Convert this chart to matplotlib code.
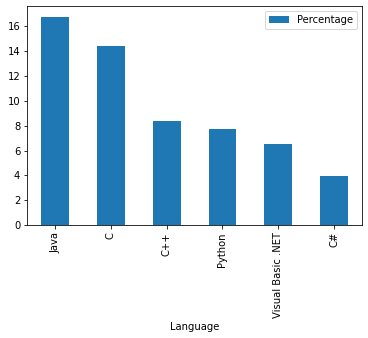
import matplotlib
matplotlib.use('Agg')
import matplotlib.pyplot as plt
import pandas as pd

# datos
languages = ['Java', 'C', 'C++', 'Python', 'Visual Basic .NET', 'C#']
percentage = [16.8, 14.4, 8.35, 7.72, 6.5, 3.92]

df = pd.DataFrame({'Language': languages, 'Percentage': percentage})

fig = plt.figure(figsize=(368 / 72, 338 / 72), dpi=72)
ax = fig.add_axes([0.074, 0.334, 0.9095, 0.648])
df.plot(kind='bar', x='Language', y='Percentage', ax=ax)
ax.set_yticks(range(0, 17, 2))
fig.savefig('out.png', dpi=72)
